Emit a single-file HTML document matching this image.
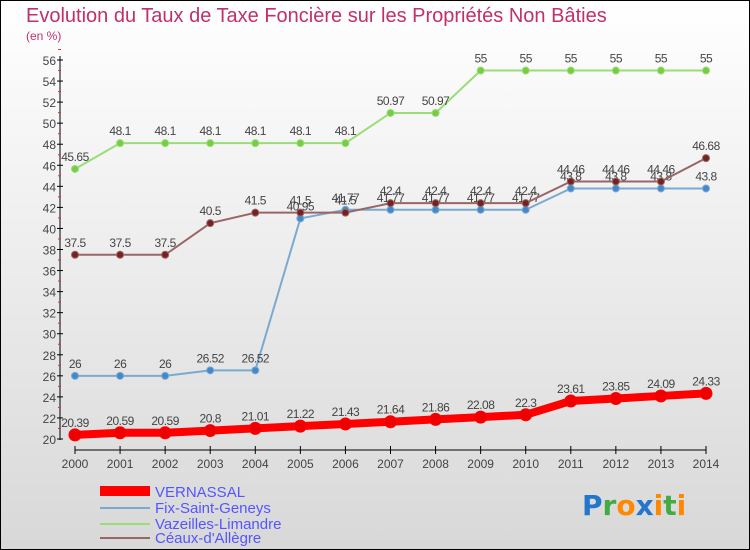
<!DOCTYPE html>
<html><head><meta charset="utf-8"><style>
body{margin:0;width:750px;height:550px;overflow:hidden}
svg{display:block;font-family:"Liberation Sans",sans-serif}
</style></head><body>
<svg id="chart" width="750" height="550" xmlns="http://www.w3.org/2000/svg">
<defs><linearGradient id="bg" x1="0" y1="0" x2="0" y2="1"><stop offset="0" stop-color="#ffffff"/><stop offset="1" stop-color="#d8d8d8"/></linearGradient></defs>
<rect x="0.5" y="0.5" width="749" height="549" fill="url(#bg)" stroke="#000"/>
<text x="26" y="22" font-size="20" fill="#c0306a">Evolution du Taux de Taxe Foncière sur les Propriétés Non Bâties</text>
<text x="26" y="40" font-size="12" fill="#c0306a">(en %)</text>
<g id="axes"></g><g id="series"></g>
<g>
<rect x="100" y="486" width="50" height="10" fill="#ff0000"/>
<text x="155" y="497" font-size="15" fill="#5555ff">VERNASSAL</text>
<rect x="100" y="507" width="50" height="2" fill="#7aaad0"/>
<text x="155" y="513" font-size="15" fill="#5555ff">Fix-Saint-Geneys</text>
<rect x="100" y="523" width="50" height="2" fill="#99dd77"/>
<text x="155" y="529" font-size="15" fill="#5555ff">Vazeilles-Limandre</text>
<rect x="100" y="537" width="50" height="2" fill="#996666"/>
<text x="155" y="543" font-size="15" fill="#5555ff">Céaux-d'Allègre</text>
</g>
<g font-size="28" font-weight="bold" font-family="'DejaVu Sans',sans-serif">
<text x="582" y="515"><tspan fill="#2277cc">P</tspan><tspan fill="#44aa44">r</tspan><tspan fill="#ff8800">o</tspan><tspan fill="#2277cc">x</tspan><tspan fill="#ff8800">i</tspan><tspan fill="#44aa44">t</tspan><tspan fill="#ff8800">i</tspan></text>
</g>
</svg>
<script>
const years=[2000,2001,2002,2003,2004,2005,2006,2007,2008,2009,2010,2011,2012,2013,2014];
const vernassal=[20.39,20.59,20.59,20.8,21.01,21.22,21.43,21.64,21.86,22.08,22.3,23.61,23.85,24.09,24.33];
const fix=[26,26,26,26.52,26.52,40.95,41.77,41.77,41.77,41.77,41.77,43.8,43.8,43.8,43.8];
const vazeilles=[45.65,48.1,48.1,48.1,48.1,48.1,48.1,50.97,50.97,55,55,55,55,55,55];
const ceaux=[37.5,37.5,37.5,40.5,41.5,41.5,41.5,42.4,42.4,42.4,42.4,44.46,44.46,44.46,46.68];
const yTicks=[20,22,24,26,28,30,32,34,36,38,40,42,44,46,48,50,52,54,56];
const NS="http://www.w3.org/2000/svg";
const x=i=>75+i*(706-75)/(years.length-1);
const y=v=>439-(v-20)*(439-60)/36;
function mk(t,a,p){const e=document.createElementNS(NS,t);for(const k in a)e.setAttribute(k,a[k]);p.appendChild(e);return e;}
const ax=document.getElementById('axes');
const yl=mk('line',{x1:60,y1:56,x2:60,y2:440,stroke:'#000'},ax);


const xl=mk('line',{x1:75,y1:450,x2:706,y2:450,stroke:'#000'},ax);


yTicks.forEach(v=>{mk('line',{x1:57,y1:y(v),x2:63,y2:y(v),stroke:'#000'},ax);
mk('line',{x1:58,y1:y(v+1),x2:61,y2:y(v+1),stroke:'#e03030'},ax);
const t=mk('text',{x:56,y:y(v)+5,'font-size':12,'text-anchor':'end',fill:'#444'},ax);t.textContent=v;

});
years.forEach((yr,i)=>{mk('line',{x1:x(i),y1:446,x2:x(i),y2:454,stroke:'#000'},ax);
const t=mk('text',{x:x(i),y:468,'font-size':12,'text-anchor':'middle',fill:'#444'},ax);t.textContent=yr;

});
const sg=document.getElementById('series');
function series(vals,name,col,dot,w,r){const g=mk('g',{},sg);


mk('polyline',{points:vals.map((v,i)=>x(i)+','+y(v)).join(' '),fill:'none',stroke:col,'stroke-width':w},g);
vals.forEach((v,i)=>{const c=mk('circle',{cx:x(i),cy:y(v),r:r,fill:dot,stroke:col,'stroke-width':1},g);


const t=mk('text',{x:x(i),y:y(v)-8,'font-size':12,'text-anchor':'middle',fill:'#444','letter-spacing':'-0.5'},g);t.textContent=v;

});}
series(vazeilles,'vazeilles','#99dd77','#77cc44',2,3.5);
series(fix,'fix','#7aaad0','#4488cc',2,3.5);
series(ceaux,'ceaux','#996666','#772222',2,3.5);
series(vernassal,'vernassal','#ff0000','#ee0000',8,6);
</script>
</body></html>
